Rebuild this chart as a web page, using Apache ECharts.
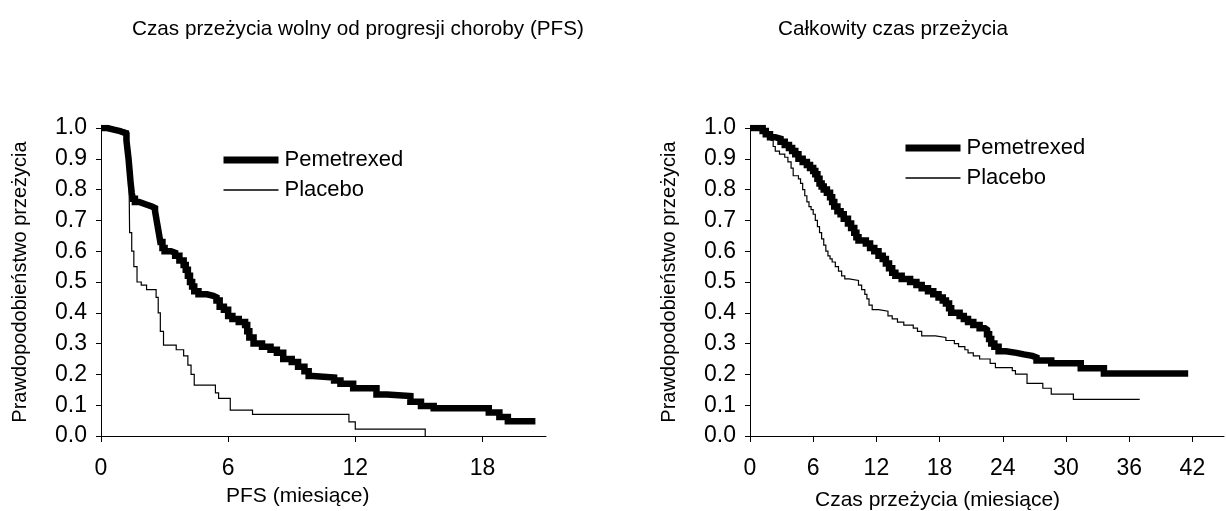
<!DOCTYPE html>
<html>
<head>
<meta charset="utf-8">
<script src="https://cdn.jsdelivr.net/npm/echarts@6/dist/echarts.min.js"></script>
<style>html,body{margin:0;padding:0;background:#fff}#c{width:1226px;height:511px}</style>
</head>
<body>
<div id="c"></div>
<script>
// Titles / labels
const titles = ['Czas przeżycia wolny od progresji choroby (PFS)', 'Całkowity czas przeżycia'];
const xNames = ['PFS (miesiące)', 'Czas przeżycia (miesiące)'];
const yName = 'Prawdopodobieństwo przeżycia';
const seriesNames = ['Pemetrexed', 'Placebo'];
const pfsTicks = [0, 6, 12, 18];
const osTicks = [0, 6, 12, 18, 24, 30, 36, 42];
const yTicks = [0, 0.1, 0.2, 0.3, 0.4, 0.5, 0.6, 0.7, 0.8, 0.9, 1.0];

// PFS – Pemetrexed [months, survival]
const pfsPem = [[0,1.0],[0.3,0.995],[0.6,0.99],[0.9,0.985],[1.1,0.98],[1.2,0.96],[1.25,0.93],[1.3,0.90],[1.35,0.86],[1.4,0.82],[1.45,0.79],[1.5,0.77],[1.6,0.76],[1.8,0.755],[2.0,0.75],[2.2,0.745],[2.4,0.74],[2.55,0.73],[2.6,0.71],[2.65,0.69],[2.7,0.67],[2.75,0.65],[2.8,0.63],[2.9,0.61],[3.0,0.60],[3.3,0.595],[3.5,0.585],[3.7,0.57],[3.9,0.555],[4.0,0.54],[4.1,0.52],[4.2,0.50],[4.3,0.485],[4.4,0.47],[4.6,0.46],[5.0,0.455],[5.3,0.45],[5.45,0.44],[5.6,0.42],[5.8,0.41],[6.0,0.39],[6.2,0.38],[6.5,0.37],[6.8,0.36],[6.9,0.34],[7.0,0.32],[7.2,0.30],[7.6,0.29],[8.0,0.28],[8.3,0.27],[8.6,0.25],[9.0,0.24],[9.3,0.225],[9.6,0.21],[9.8,0.195],[10.0,0.19],[11.0,0.18],[11.3,0.17],[11.9,0.155],[13.0,0.135],[13.5,0.13],[14.6,0.111],[15.1,0.097],[15.7,0.09],[18.3,0.076],[18.8,0.062],[19.2,0.048],[20.5,0.048]];
// PFS – Placebo
const pfsPlc = [[0,1.0],[0.5,0.995],[1.0,0.99],[1.3,0.98],[1.35,0.66],[1.45,0.60],[1.55,0.55],[1.7,0.50],[1.9,0.49],[2.15,0.475],[2.6,0.45],[2.7,0.40],[2.8,0.34],[2.95,0.295],[3.55,0.28],[3.9,0.26],[4.1,0.23],[4.25,0.20],[4.4,0.165],[5.4,0.14],[5.55,0.122],[6.1,0.084],[7.15,0.07],[11.7,0.046],[12.0,0.022],[15.3,0.0]];
// OS – Pemetrexed
const osPem = [[0,1],[1.2,0.99],[1.5,0.98],[1.9,0.97],[2.4,0.965],[2.9,0.955],[3.3,0.945],[3.7,0.935],[4.0,0.925],[4.3,0.915],[4.6,0.90],[5.0,0.89],[5.4,0.88],[5.7,0.87],[6.0,0.86],[6.2,0.85],[6.4,0.835],[6.6,0.82],[6.8,0.81],[7.0,0.80],[7.3,0.79],[7.6,0.775],[7.8,0.76],[8.0,0.745],[8.3,0.73],[8.6,0.72],[8.9,0.705],[9.3,0.69],[9.6,0.675],[9.9,0.66],[10.1,0.645],[10.3,0.635],[11.0,0.625],[11.4,0.61],[11.8,0.60],[12.2,0.585],[12.6,0.575],[12.9,0.56],[13.2,0.545],[13.5,0.53],[13.8,0.52],[14.4,0.51],[15.2,0.50],[15.8,0.49],[16.3,0.48],[16.9,0.47],[17.4,0.46],[17.9,0.45],[18.3,0.44],[18.6,0.43],[18.9,0.415],[19.1,0.40],[19.9,0.39],[20.3,0.38],[20.7,0.37],[21.2,0.36],[21.8,0.35],[22.3,0.345],[22.5,0.33],[22.7,0.315],[22.9,0.30],[23.2,0.29],[23.6,0.275],[24.3,0.27],[25.3,0.265],[26.0,0.26],[26.8,0.255],[27.2,0.245],[28.6,0.236],[31.4,0.22],[33.6,0.203],[41.6,0.203]];
// OS – Placebo
const osPlc = [[0,1],[0.8,0.995],[1.3,0.99],[1.7,0.98],[2.0,0.96],[2.2,0.94],[2.4,0.925],[2.8,0.915],[3.3,0.905],[3.6,0.89],[3.9,0.87],[4.1,0.845],[4.6,0.835],[4.8,0.82],[5.0,0.80],[5.2,0.78],[5.4,0.76],[5.6,0.745],[5.8,0.735],[6.0,0.72],[6.2,0.70],[6.4,0.68],[6.6,0.66],[6.8,0.64],[7.0,0.62],[7.2,0.60],[7.4,0.585],[7.6,0.575],[7.8,0.565],[8.1,0.55],[8.4,0.535],[8.7,0.52],[9.0,0.51],[9.4,0.505],[10.3,0.49],[10.6,0.475],[10.9,0.46],[11.1,0.445],[11.3,0.425],[11.6,0.41],[12.2,0.405],[13.1,0.39],[13.5,0.38],[14.0,0.37],[14.6,0.36],[15.5,0.35],[15.9,0.34],[16.3,0.325],[17.6,0.32],[18.6,0.31],[19.4,0.30],[19.8,0.29],[20.4,0.28],[20.7,0.27],[21.2,0.26],[21.8,0.25],[22.8,0.236],[23.3,0.222],[24.9,0.212],[25.2,0.201],[26.3,0.171],[27.8,0.155],[28.6,0.136],[30.7,0.119],[37.0,0.119]];

const FONT = "'Liberation Sans', Arial, sans-serif";
const chart = echarts.init(document.getElementById('c'), null, {renderer: 'canvas'});

function xAxisCfg(gi, max, ticks) {
  return {
    type: 'value', gridIndex: gi, min: 0, max: max, interval: 6,
    axisLine: {show: true, onZero: false, lineStyle: {color: '#000', width: 1}},
    axisTick: {show: true, length: 6, lineStyle: {color: '#000'}, customValues: ticks},
    axisLabel: {show: true, margin: 21, fontSize: 23, fontFamily: FONT, color: '#000', customValues: ticks,
      formatter: v => (ticks.indexOf(v) >= 0 ? String(v) : '')},
    splitLine: {show: false}
  };
}
function yAxisCfg(gi) {
  return {
    type: 'value', gridIndex: gi, min: 0, max: 1, interval: 0.1,
    name: yName, nameLocation: 'middle', nameGap: 71,
    nameTextStyle: {fontSize: 20, fontFamily: FONT, color: '#000'},
    axisLine: {show: true, lineStyle: {color: '#000', width: 1}},
    axisTick: {show: true, length: 5, lineStyle: {color: '#000'}},
    axisLabel: {margin: 14, fontSize: 23, fontFamily: FONT, color: '#000', formatter: v => v.toFixed(1)},
    splitLine: {show: false}
  };
}
function lineSeries(name, data, xi, thick) {
  return {
    name: name, type: 'line', step: 'end', xAxisIndex: xi, yAxisIndex: xi,
    data: data, showSymbol: false, symbol: 'none', animation: false,
    lineStyle: {color: '#000', width: thick ? 6.5 : 1.2, join: 'miter', cap: 'butt'},
    itemStyle: {color: '#000'}, z: thick ? 2 : 3
  };
}
const hiddenSymbol = {color: 'rgba(0,0,0,0)', borderColor: 'rgba(0,0,0,0)', borderWidth: 0};
function legendCfg(left, top) {
  return {
    left: left, top: top, padding: 0, orient: 'vertical', itemWidth: 55, itemHeight: 14, itemGap: 8,
    textStyle: {fontSize: 22, fontFamily: FONT, color: '#000', padding: [0, 0, 0, 1]},
    data: [
      {name: seriesNames[0], lineStyle: {width: 7, color: '#000'}, itemStyle: hiddenSymbol},
      {name: seriesNames[1], lineStyle: {width: 1.3, color: '#000'}, itemStyle: hiddenSymbol}
    ]
  };
}

chart.setOption({
  backgroundColor: '#fff',
  animation: false,
  title: [
    {text: titles[0], left: 353, top: 14, textAlign: 'center', textStyle: {fontSize: 20.7, fontWeight: 'normal', fontFamily: FONT, color: '#000'}},
    {text: titles[1], left: 888, top: 14, textAlign: 'center', textStyle: {fontSize: 20.7, fontWeight: 'normal', fontFamily: FONT, color: '#000'}}
  ],
  grid: [
    {left: 101, top: 128, width: 445, height: 308, containLabel: false},
    {left: 750, top: 128, width: 474, height: 308, containLabel: false}
  ],
  xAxis: [xAxisCfg(0, 21, pfsTicks), xAxisCfg(1, 45, osTicks)],
  yAxis: [yAxisCfg(0), yAxisCfg(1)],
  legend: [legendCfg(220, 149), legendCfg(902, 137)],
  series: [
    lineSeries(seriesNames[0], pfsPem, 0, true),
    lineSeries(seriesNames[1], pfsPlc, 0, false),
    lineSeries(seriesNames[0], osPem, 1, true),
    lineSeries(seriesNames[1], osPlc, 1, false)
  ],
  graphic: [
    {type: 'text', left: 226, top: 486, style: {text: xNames[0], fontSize: 21, fontFamily: FONT, fill: '#000'}},
    {type: 'text', left: 815, top: 490, style: {text: xNames[1], fontSize: 21, fontFamily: FONT, fill: '#000'}}
  ]
});
</script>
</body>
</html>
